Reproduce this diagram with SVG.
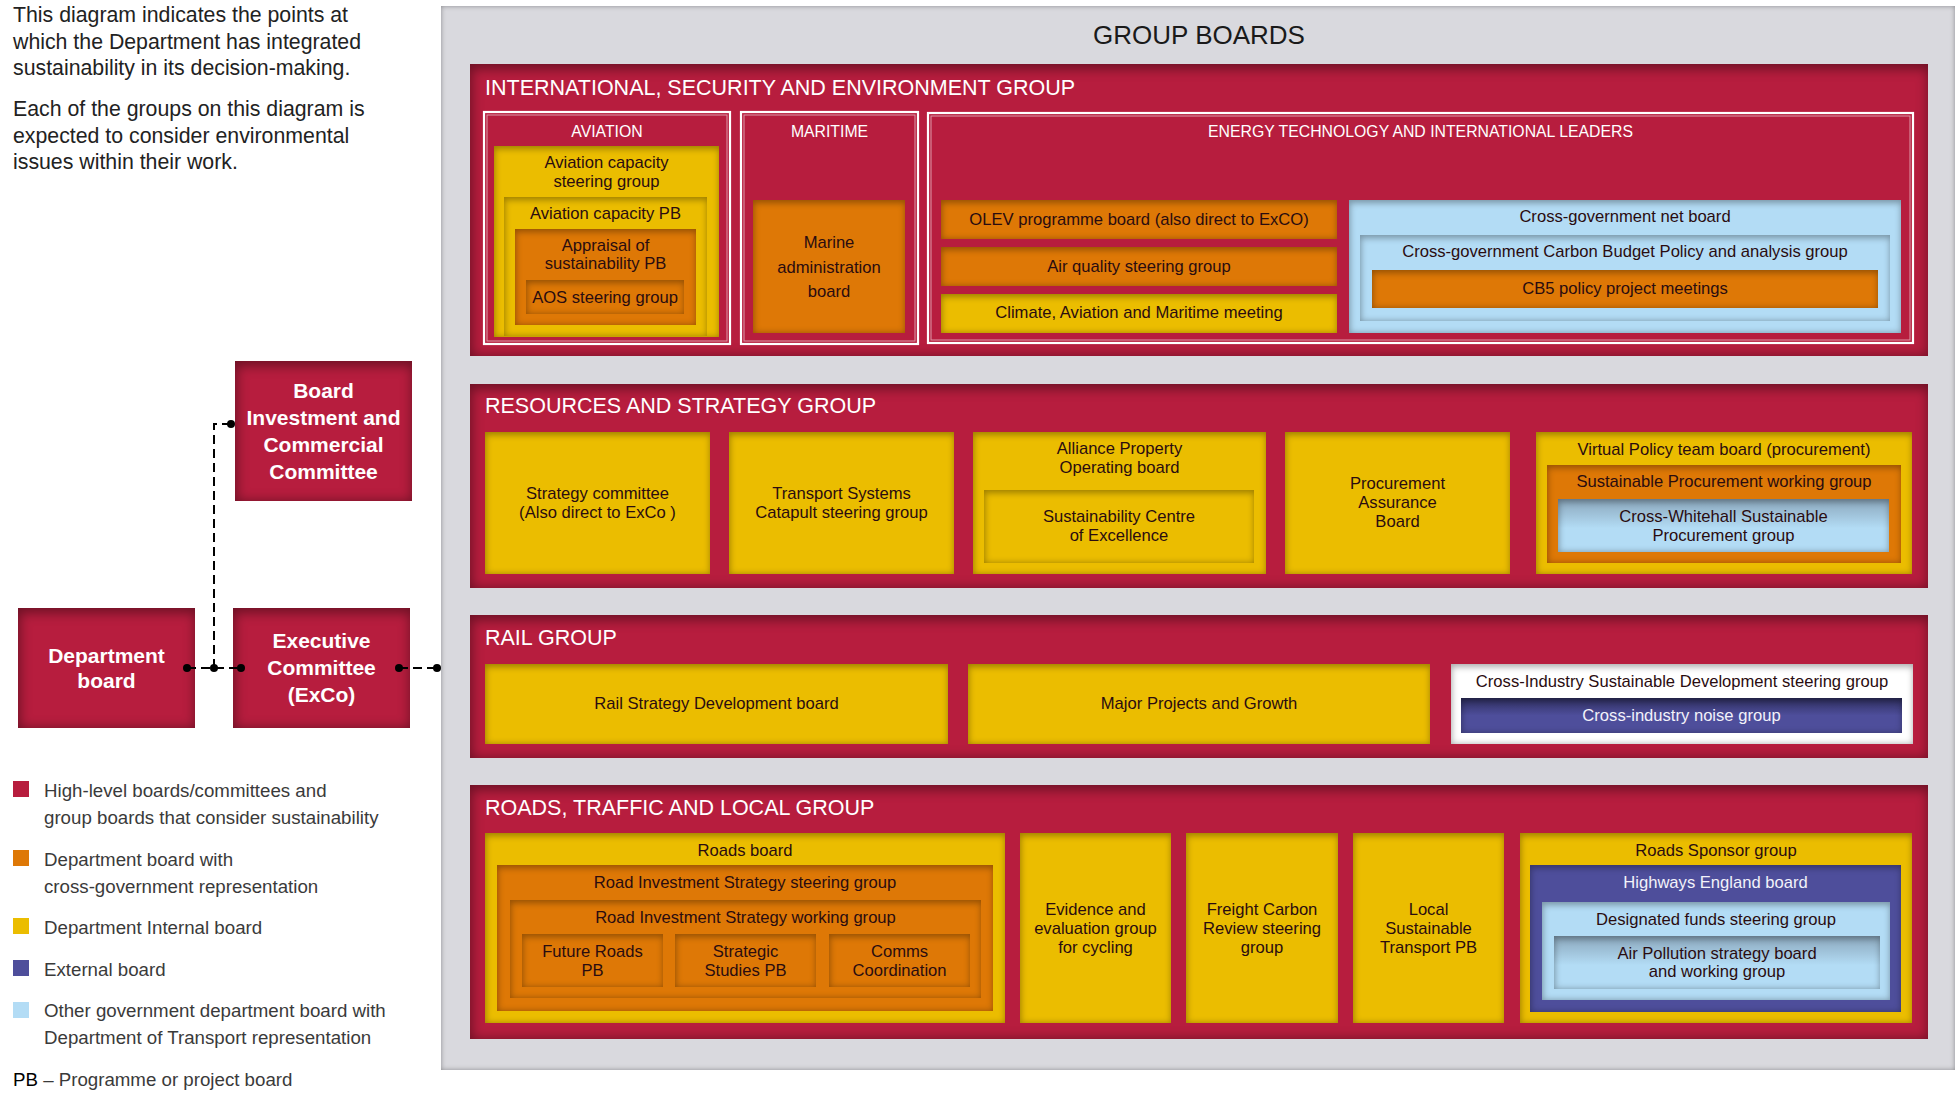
<svg xmlns="http://www.w3.org/2000/svg" width="1955" height="1096" viewBox="0 0 1955 1096">
<defs>
<filter id="ins" x="0" y="0" width="1" height="1" color-interpolation-filters="sRGB">
<feOffset in="SourceAlpha" dx="1" dy="2.5"/>
<feGaussianBlur stdDeviation="3" result="b"/>
<feComposite in="SourceAlpha" in2="b" operator="out" result="inv"/>
<feFlood flood-color="#000" flood-opacity="0.32"/>
<feComposite in2="inv" operator="in" result="sh"/>
<feMerge><feMergeNode in="SourceGraphic"/><feMergeNode in="sh"/></feMerge>
</filter>
<filter id="insR" x="0" y="0" width="1" height="1" color-interpolation-filters="sRGB">
<feOffset in="SourceAlpha" dx="2" dy="5"/>
<feGaussianBlur stdDeviation="6" result="b"/>
<feComposite in="SourceAlpha" in2="b" operator="out" result="inv"/>
<feFlood flood-color="#000" flood-opacity="0.4"/>
<feComposite in2="inv" operator="in" result="sh"/>
<feMerge><feMergeNode in="SourceGraphic"/><feMergeNode in="sh"/></feMerge>
</filter>
<filter id="insG" x="0" y="0" width="1" height="1" color-interpolation-filters="sRGB">
<feGaussianBlur in="SourceAlpha" stdDeviation="2.5" result="b"/>
<feComposite in="SourceAlpha" in2="b" operator="out" result="inv"/>
<feFlood flood-color="#000" flood-opacity="0.35"/>
<feComposite in2="inv" operator="in" result="sh"/>
<feMerge><feMergeNode in="SourceGraphic"/><feMergeNode in="sh"/></feMerge>
</filter>
<linearGradient id="gBlue" x1="0" y1="0" x2="0" y2="1">
<stop offset="0" stop-color="#8aa6bb"/><stop offset="0.55" stop-color="#b3dcf5"/>
</linearGradient>
<linearGradient id="gPur" x1="0" y1="0" x2="0" y2="1">
<stop offset="0" stop-color="#2e2e5e"/><stop offset="0.5" stop-color="#4e4e9b"/>
</linearGradient>
<style>
text{font-family:"Liberation Sans",Arial,Helvetica,sans-serif}
.bx{font-size:16.6px;fill:#2a0c10;text-anchor:middle}
.bxw{font-size:16.6px;fill:#f2f2fa;text-anchor:middle}
.grp{font-size:21.5px;fill:#fff}
.lab{font-size:15.8px;fill:#fff;text-anchor:middle}
.lb{font-size:21px;fill:#fff;font-weight:bold;text-anchor:middle}
.para{font-size:21.3px;fill:#222}
.leg{font-size:18.7px;fill:#3a3a3a}
.red{fill:#b71d3e;filter:url(#insR)}
.yel{fill:#ebbd00;filter:url(#ins)}
.org{fill:#de7806;filter:url(#ins)}
.pur{fill:#4e4e9b;filter:url(#ins)}
.blu{fill:#b3dcf5;filter:url(#ins)}
.blug{fill:url(#gBlue);filter:url(#ins)}
.purg{fill:url(#gPur);filter:url(#ins)}
.wht{fill:#fff;filter:url(#ins)}
.frame{fill:none;stroke:#fff;stroke-width:2.2}
.frame2{fill:none;stroke:#fff;stroke-opacity:0.55;stroke-width:1}
.con{fill:none;stroke:#000;stroke-width:2;stroke-dasharray:9 5}
</style>
</defs>
<rect width="1955" height="1096" fill="#fff"/>

<!-- intro text -->
<g id="intro">
<text class="para" x="13" y="22">This diagram indicates the points at</text>
<text class="para" x="13" y="48.5">which the Department has integrated</text>
<text class="para" x="13" y="75">sustainability in its decision-making.</text>
<text class="para" x="13" y="116">Each of the groups on this diagram is</text>
<text class="para" x="13" y="142.5">expected to consider environmental</text>
<text class="para" x="13" y="169">issues within their work.</text>
</g>

<!-- left nodes -->
<g id="board-investment">
<rect class="red" x="235" y="361" width="177" height="140"/>
<text class="lb" x="323.5" y="398">Board</text>
<text class="lb" x="323.5" y="425">Investment and</text>
<text class="lb" x="323.5" y="452">Commercial</text>
<text class="lb" x="323.5" y="479">Committee</text>
</g>
<g id="department-board">
<rect class="red" x="18" y="608" width="177" height="120"/>
<text class="lb" x="106.5" y="663">Department</text>
<text class="lb" x="106.5" y="688">board</text>
</g>
<g id="executive-committee">
<rect class="red" x="233" y="608" width="177" height="120"/>
<text class="lb" x="321.5" y="648">Executive</text>
<text class="lb" x="321.5" y="675">Committee</text>
<text class="lb" x="321.5" y="702">(ExCo)</text>
</g>

<!-- legend -->
<g id="legend">
<rect x="13" y="781" width="16" height="16" fill="#b71d3e"/>
<text class="leg" x="44" y="797">High-level boards/committees and</text>
<text class="leg" x="44" y="824">group boards that consider sustainability</text>
<rect x="13" y="850" width="16" height="16" fill="#de7806"/>
<text class="leg" x="44" y="866">Department board with</text>
<text class="leg" x="44" y="893">cross-government representation</text>
<rect x="13" y="918" width="16" height="16" fill="#ebbd00"/>
<text class="leg" x="44" y="934">Department Internal board</text>
<rect x="13" y="960" width="16" height="16" fill="#4e4e9b"/>
<text class="leg" x="44" y="976">External board</text>
<rect x="13" y="1002" width="16" height="16" fill="#b3dcf5"/>
<text class="leg" x="44" y="1017">Other government department board with</text>
<text class="leg" x="44" y="1044">Department of Transport representation</text>
<text class="leg" x="13" y="1086"><tspan fill="#000">PB</tspan> – Programme or project board</text>
</g>

<!-- group boards panel -->
<g id="group-boards">
<rect x="441" y="6" width="1514" height="1064" fill="#d9d9de" filter="url(#insG)"/>
<text x="1199" y="44" font-size="26" fill="#1a1a1a" text-anchor="middle">GROUP BOARDS</text>
</g>

<!-- ISE group -->
<g id="ise-group">
<rect class="red" x="470" y="64" width="1458" height="292"/>
<text class="grp" x="485" y="95">INTERNATIONAL, SECURITY AND ENVIRONMENT GROUP</text>
</g>
<g id="aviation">
<rect class="frame" x="484" y="112" width="246" height="232"/>
<rect class="frame2" x="487" y="115" width="240" height="226"/>
<text class="lab" x="607" y="137">AVIATION</text>
</g>
<g id="aviation-capacity-steering-group">
<rect class="yel" x="494" y="146" width="225" height="191"/>
<text class="bx" x="606.5" y="168">Aviation capacity</text>
<text class="bx" x="606.5" y="187">steering group</text>
</g>
<g id="aviation-capacity-pb">
<rect class="yel" x="504" y="197" width="203" height="139"/>
<text class="bx" x="605.5" y="219">Aviation capacity PB</text>
</g>
<g id="appraisal-pb">
<rect class="org" x="515" y="229" width="181" height="96"/>
<text class="bx" x="605.5" y="251" fill="#3a2410">Appraisal of</text>
<text class="bx" x="605.5" y="269" fill="#3a2410">sustainability PB</text>
</g>
<g id="aos-steering-group">
<rect class="org" x="526" y="280" width="158" height="34"/>
<text class="bx" x="605" y="303">AOS steering group</text>
</g>
<g id="maritime">
<rect class="frame" x="741" y="112" width="177" height="232"/>
<rect class="frame2" x="744" y="115" width="171" height="226"/>
<text class="lab" x="829.5" y="137">MARITIME</text>
</g>
<g id="marine-administration-board">
<rect class="org" x="753" y="200" width="152" height="133"/>
<text class="bx" x="829" y="248">Marine</text>
<text class="bx" x="829" y="273">administration</text>
<text class="bx" x="829" y="297">board</text>
</g>
<g id="energy">
<rect class="frame" x="928" y="113" width="985" height="230"/>
<rect class="frame2" x="931" y="116" width="979" height="224"/>
<text class="lab" x="1420.5" y="137">ENERGY TECHNOLOGY AND INTERNATIONAL LEADERS</text>
</g>
<g id="olev">
<rect class="org" x="941" y="200" width="396" height="39"/>
<text class="bx" x="1139" y="225">OLEV programme board (also direct to ExCO)</text>
</g>
<g id="air-quality">
<rect class="org" x="941" y="247" width="396" height="39"/>
<text class="bx" x="1139" y="272">Air quality steering group</text>
</g>
<g id="climate-meeting">
<rect class="yel" x="941" y="294" width="396" height="39"/>
<text class="bx" x="1139" y="318">Climate, Aviation and Maritime meeting</text>
</g>
<g id="cross-government-net-board">
<rect class="blu" x="1349" y="200" width="552" height="133"/>
<text class="bx" x="1625" y="222">Cross-government net board</text>
</g>
<g id="carbon-budget-group">
<rect class="blu" x="1360" y="235" width="530" height="86"/>
<text class="bx" x="1625" y="257">Cross-government Carbon Budget Policy and analysis group</text>
</g>
<g id="cb5">
<rect class="org" x="1372" y="270" width="506" height="38"/>
<text class="bx" x="1625" y="294" fill="#333">CB5 policy project meetings</text>
</g>

<!-- Resources group -->
<g id="resources-group">
<rect class="red" x="470" y="384" width="1458" height="204"/>
<text class="grp" x="485" y="413">RESOURCES AND STRATEGY GROUP</text>
</g>
<g id="strategy-committee">
<rect class="yel" x="485" y="432" width="225" height="142"/>
<text class="bx" x="597.5" y="499">Strategy committee</text>
<text class="bx" x="597.5" y="518">(Also direct to ExCo )</text>
</g>
<g id="transport-systems">
<rect class="yel" x="729" y="432" width="225" height="142"/>
<text class="bx" x="841.5" y="499">Transport Systems</text>
<text class="bx" x="841.5" y="518">Catapult steering group</text>
</g>
<g id="alliance-property">
<rect class="yel" x="973" y="432" width="293" height="142"/>
<text class="bx" x="1119.5" y="454">Alliance Property</text>
<text class="bx" x="1119.5" y="473">Operating board</text>
</g>
<g id="sustainability-centre">
<rect class="yel" x="984" y="490" width="270" height="73"/>
<text class="bx" x="1119" y="522" fill="#3a2410">Sustainability Centre</text>
<text class="bx" x="1119" y="541" fill="#3a2410">of Excellence</text>
</g>
<g id="procurement-assurance">
<rect class="yel" x="1285" y="432" width="225" height="142"/>
<text class="bx" x="1397.5" y="489">Procurement</text>
<text class="bx" x="1397.5" y="508">Assurance</text>
<text class="bx" x="1397.5" y="527">Board</text>
</g>
<g id="virtual-policy">
<rect class="yel" x="1536" y="432" width="376" height="142"/>
<text class="bx" x="1724" y="455">Virtual Policy team board (procurement)</text>
</g>
<g id="sustainable-procurement">
<rect class="org" x="1547" y="465" width="354" height="98"/>
<text class="bx" x="1724" y="487" fill="#3a2410">Sustainable Procurement working group</text>
</g>
<g id="cross-whitehall">
<rect class="blug" x="1558" y="499" width="331" height="53"/>
<text class="bx" x="1723.5" y="522">Cross-Whitehall Sustainable</text>
<text class="bx" x="1723.5" y="541">Procurement group</text>
</g>

<!-- Rail group -->
<g id="rail-group">
<rect class="red" x="470" y="615" width="1458" height="143"/>
<text class="grp" x="485" y="645">RAIL GROUP</text>
</g>
<g id="rail-strategy">
<rect class="yel" x="485" y="664" width="463" height="80"/>
<text class="bx" x="716.5" y="709">Rail Strategy Development board</text>
</g>
<g id="major-projects">
<rect class="yel" x="968" y="664" width="462" height="80"/>
<text class="bx" x="1199" y="709">Major Projects and Growth</text>
</g>
<g id="cross-industry-sd">
<rect class="wht" x="1451" y="664" width="462" height="80"/>
<text class="bx" x="1682" y="687">Cross-Industry Sustainable Development steering group</text>
</g>
<g id="cross-industry-noise">
<rect class="purg" x="1461" y="698" width="441" height="35"/>
<text class="bxw" x="1681.5" y="721">Cross-industry noise group</text>
</g>

<!-- Roads group -->
<g id="roads-group">
<rect class="red" x="470" y="785" width="1458" height="254"/>
<text class="grp" x="485" y="815">ROADS, TRAFFIC AND LOCAL GROUP</text>
</g>
<g id="roads-board">
<rect class="yel" x="485" y="833" width="520" height="190"/>
<text class="bx" x="745" y="856">Roads board</text>
</g>
<g id="ris-steering">
<rect class="org" x="497" y="865" width="496" height="146"/>
<text class="bx" x="745" y="888" fill="#3a2a10">Road Investment Strategy steering group</text>
</g>
<g id="ris-working">
<rect class="org" x="510" y="900" width="471" height="98"/>
<text class="bx" x="745.5" y="923">Road Investment Strategy working group</text>
</g>
<g id="future-roads">
<rect class="org" x="522" y="934" width="141" height="53"/>
<text class="bx" x="592.5" y="957">Future Roads</text>
<text class="bx" x="592.5" y="976">PB</text>
</g>
<g id="strategic-studies">
<rect class="org" x="675" y="934" width="141" height="53"/>
<text class="bx" x="745.5" y="957">Strategic</text>
<text class="bx" x="745.5" y="976">Studies PB</text>
</g>
<g id="comms">
<rect class="org" x="829" y="934" width="141" height="53"/>
<text class="bx" x="899.5" y="957">Comms</text>
<text class="bx" x="899.5" y="976">Coordination</text>
</g>
<g id="evidence">
<rect class="yel" x="1020" y="833" width="151" height="190"/>
<text class="bx" x="1095.5" y="915">Evidence and</text>
<text class="bx" x="1095.5" y="934">evaluation group</text>
<text class="bx" x="1095.5" y="953">for cycling</text>
</g>
<g id="freight-carbon">
<rect class="yel" x="1186" y="833" width="152" height="190"/>
<text class="bx" x="1262" y="915">Freight Carbon</text>
<text class="bx" x="1262" y="934">Review steering</text>
<text class="bx" x="1262" y="953">group</text>
</g>
<g id="local-sustainable">
<rect class="yel" x="1353" y="833" width="151" height="190"/>
<text class="bx" x="1428.5" y="915">Local</text>
<text class="bx" x="1428.5" y="934">Sustainable</text>
<text class="bx" x="1428.5" y="953">Transport PB</text>
</g>
<g id="roads-sponsor">
<rect class="yel" x="1520" y="833" width="392" height="190"/>
<text class="bx" x="1716" y="856">Roads Sponsor group</text>
</g>
<g id="highways-england">
<rect class="pur" x="1530" y="865" width="371" height="147"/>
<text class="bxw" x="1715.5" y="888">Highways England board</text>
</g>
<g id="designated-funds">
<rect class="blu" x="1542" y="902" width="348" height="98"/>
<text class="bx" x="1716" y="925">Designated funds steering group</text>
</g>
<g id="air-pollution">
<rect class="blug" x="1554" y="936" width="326" height="53"/>
<text class="bx" x="1717" y="959">Air Pollution strategy board</text>
<text class="bx" x="1717" y="977">and working group</text>
</g>

<!-- connectors -->
<g id="connectors">
<path class="con" d="M187 668 H241"/>
<path class="con" d="M214 668 V424 H231"/>
<path class="con" d="M399 668 H437"/>
<g fill="#000">
<circle cx="187" cy="668" r="4"/>
<circle cx="214" cy="668" r="4"/>
<circle cx="241" cy="668" r="4"/>
<circle cx="231" cy="424" r="4"/>
<circle cx="399" cy="668" r="4"/>
<circle cx="437" cy="668" r="4"/>
</g>
</g>
</svg>
